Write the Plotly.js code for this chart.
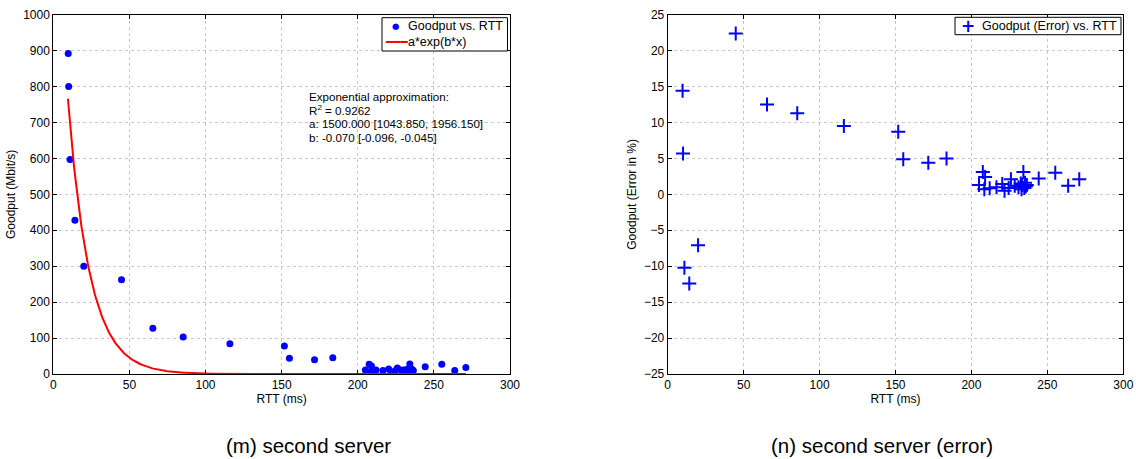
<!DOCTYPE html>
<html>
<head>
<meta charset="utf-8">
<script src="https://cdn.plot.ly/plotly-3.0.1.min.js"></script>
<style>html,body{margin:0;padding:0;background:#fff;}#chart{width:1136px;height:459px;}</style>
</head>
<body>
<div id="chart"></div>
<script>
// RTT (ms) of each measurement
var rtt = [9.8, 10.1, 11.0, 14.2, 20.0, 44.8, 65.4, 85.3, 116.0, 151.8, 155.1, 171.6, 183.6,
           205.0, 207.5, 209.0, 208.5, 212.0, 216.5, 220.3, 221.8, 224.5, 226.0, 228.5, 231.0,
           232.5, 233.5, 234.2, 234.8, 235.3, 235.8, 236.5, 233.0, 244.3, 255.2, 263.7, 271.0];
// Goodput (Mbit/s)
var goodput = [892, 800, 597, 428, 300, 262, 127, 103, 84, 78, 44, 40, 45,
               11, 27, 22, 6, 11, 10, 14, 4, 9, 17, 11, 12,
               8, 15, 28, 10, 14, 12, 10, 6, 20, 27, 10, 18];
// Goodput error (%)
var errorPct = [14.4, 5.7, -10.2, -12.4, -7.1, 22.4, 12.5, 11.3, 9.5, 8.7, 4.9, 4.4, 5.0,
                1.3, 3.1, 2.4, 0.7, 0.85, 1.0, 1.45, 0.5, 0.9, 2.1, 1.2, 1.0,
                1.5, 1.3, 3.1, 0.9, 1.6, 1.1, 1.3, 0.7, 2.2, 3.0, 1.2, 2.1];
// Exponential fit parameters (from the chart annotation)
var fitA = 1500.0;
var fitB = -0.070;
var fitXStart = 9.6, fitXEnd = 271.0;
// Text
var fitText = ['Exponential approximation:', 'R<sup>2</sup> = 0.9262',
               'a: 1500.000 [1043.850, 1956.150]', 'b: -0.070 [-0.096, -0.045]'];
var legendNames = ['Goodput vs. RTT', 'a*exp(b*x)', 'Goodput (Error) vs. RTT'];
var captions = ['(m) second server', '(n) second server (error)'];

var fitX = [], fitY = [];
for (var i = 0; i <= 400; i++) {
  var xv = fitXStart + (fitXEnd - fitXStart) * i / 400;
  fitX.push(xv);
  fitY.push(fitA * Math.exp(fitB * xv));
}

var FONT = 'Liberation Sans, Arial, sans-serif';
var W = 1136, H = 459;
function px(x) { return x / W; }
function py(y) { return (H - y) / H; }

var traces = [
  {x: rtt, y: goodput, type: 'scatter', mode: 'markers', name: legendNames[0], showlegend: false,
   marker: {color: '#0000ff', size: 7, symbol: 'circle'}, xaxis: 'x', yaxis: 'y'},
  {x: fitX, y: fitY, type: 'scatter', mode: 'lines', name: legendNames[1], showlegend: false,
   line: {color: '#ff0000', width: 2}, xaxis: 'x', yaxis: 'y', cliponaxis: false},
  {x: rtt, y: errorPct, type: 'scatter', mode: 'markers', name: legendNames[2], showlegend: false,
   marker: {color: '#0000ff', size: 10, symbol: 'cross-thin', line: {color: '#0000ff', width: 2}},
   xaxis: 'x2', yaxis: 'y2'}
];

function axisBase() {
  return {
    showline: true, linecolor: '#000', linewidth: 1, mirror: 'ticks',
    ticks: 'inside', ticklen: 4, tickcolor: '#000', tickwidth: 1,
    showgrid: true, gridcolor: '#c8c8c8', griddash: 'dot', gridwidth: 1,
    zeroline: false, tickfont: {family: FONT, size: 12, color: '#000'}
  };
}
var titleFont = {family: FONT, size: 12, color: '#000'};

var xa = axisBase(); Object.assign(xa, {domain: [px(53.3), px(510)], range: [0, 300], dtick: 50, anchor: 'y',
  title: {text: 'RTT (ms)', font: titleFont, standoff: 2}});
var ya = axisBase(); Object.assign(ya, {domain: [py(374), py(14.7)], range: [0, 1000], dtick: 100, anchor: 'x',
  title: {text: 'Goodput (Mbit/s)', font: titleFont, standoff: 4}});
var xa2 = axisBase(); Object.assign(xa2, {domain: [px(667.7), px(1123.3)], range: [0, 300], dtick: 50, anchor: 'y2',
  title: {text: 'RTT (ms)', font: titleFont, standoff: 2}});
var ya2 = axisBase(); Object.assign(ya2, {domain: [py(374), py(14.7)], range: [-25, 25], dtick: 5, anchor: 'x2',
  title: {text: 'Goodput (Error in %)', font: titleFont, standoff: 4}});

var annFont = {family: FONT, size: 11.6, color: '#000'};
var annotations = [];
var lineY = [96.7, 110.3, 123.8, 137.3];
for (var k = 0; k < fitText.length; k++) {
  annotations.push({xref: 'paper', yref: 'paper', x: px(306.5), y: py(lineY[k]), xanchor: 'left', yanchor: 'middle',
    align: 'left', showarrow: false, font: annFont, text: fitText[k]});
}
// captions
annotations.push({xref: 'paper', yref: 'paper', x: px(308.5), y: py(445), xanchor: 'center', yanchor: 'middle',
  showarrow: false, font: {family: FONT, size: 20.5, color: '#000'}, text: captions[0]});
annotations.push({xref: 'paper', yref: 'paper', x: px(882), y: py(445), xanchor: 'center', yanchor: 'middle',
  showarrow: false, font: {family: FONT, size: 20.5, color: '#000'}, text: captions[1]});

// legend (left) entries
var legFont = {family: FONT, size: 12.5, color: '#000'};
annotations.push({xref: 'paper', yref: 'paper', x: px(395.3), y: py(26.3), xanchor: 'center', yanchor: 'middle',
  showarrow: false, font: {family: 'DejaVu Sans', size: 8.5, color: '#0000ff'}, text: '\u25CF'});
annotations.push({xref: 'paper', yref: 'paper', x: px(396), y: py(42.3), xanchor: 'center', yanchor: 'middle',
  showarrow: false, font: {family: 'DejaVu Sans Mono', size: 12, color: '#ff0000'}, text: '\u2501\u2501\u2501'});
annotations.push({xref: 'paper', yref: 'paper', x: px(406), y: py(26.3), xanchor: 'left', yanchor: 'middle',
  showarrow: false, font: legFont, text: legendNames[0]});
annotations.push({xref: 'paper', yref: 'paper', x: px(406), y: py(42.3), xanchor: 'left', yanchor: 'middle',
  showarrow: false, font: legFont, text: legendNames[1]});
// legend (right) entries
annotations.push({xref: 'paper', yref: 'paper', x: px(968.3), y: py(26), xanchor: 'center', yanchor: 'middle',
  showarrow: false, font: {family: 'DejaVu Sans', size: 17, color: '#0000ff'}, text: '<b>+</b>'});
annotations.push({xref: 'paper', yref: 'paper', x: px(979.5), y: py(26), xanchor: 'left', yanchor: 'middle',
  showarrow: false, font: legFont, text: legendNames[2]});

// legend boxes
var shapes = [
  {type: 'rect', xref: 'paper', yref: 'paper', x0: px(382), x1: px(507.5), y0: py(51), y1: py(17.7),
   line: {color: '#000', width: 1}, fillcolor: '#fff', layer: 'above'},
  {type: 'rect', xref: 'paper', yref: 'paper', x0: px(955), x1: px(1121), y0: py(34.7), y1: py(17.3),
   line: {color: '#000', width: 1}, fillcolor: '#fff', layer: 'above'}
];

var layout = {
  width: W, height: H,
  margin: {l: 0, r: 0, t: 0, b: 0},
  paper_bgcolor: '#fff', plot_bgcolor: '#fff',
  font: {family: FONT, size: 12, color: '#000'},
  showlegend: false,
  xaxis: xa, yaxis: ya, xaxis2: xa2, yaxis2: ya2,
  shapes: shapes,
  annotations: annotations
};

Plotly.newPlot('chart', traces, layout, {staticPlot: true, displayModeBar: false});
</script>
</body>
</html>
